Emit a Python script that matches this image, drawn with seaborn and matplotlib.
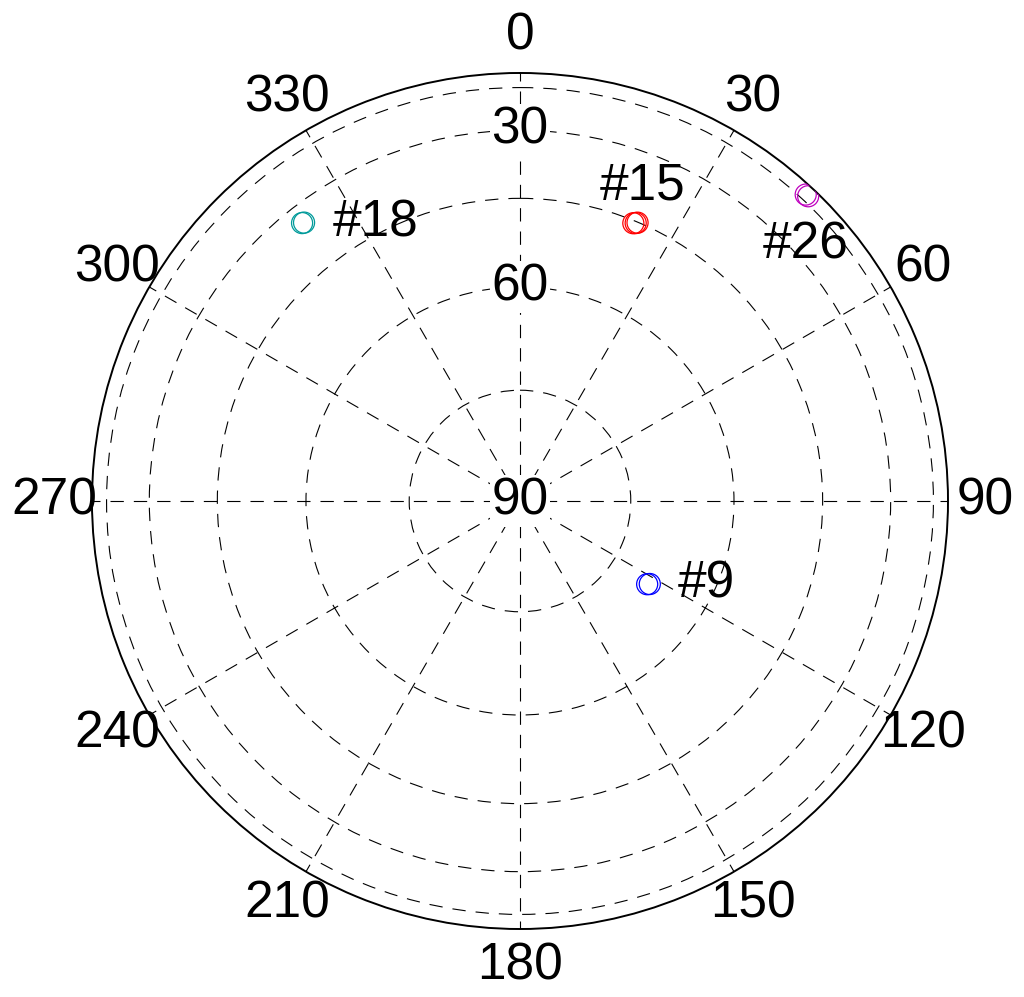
"""
Sky plot of satellite positions (azimuth / elevation)
"""

import numpy as np
import pandas as pd
import matplotlib
matplotlib.use("Agg")
import matplotlib.pyplot as plt
import seaborn as sns


# Data (two observations per satellite, degrees)
sat_id = ["#9", "#9", "#15", "#15", "#15", "#18", "#18", "#26", "#26"]
azimuth = [122.6, 123.2, 22.6, 22.2, 22.9, 321.9, 322.2, 43.4, 43.0]
elevation = [68.9, 69.2, 45.3, 45.5, 45.1, 34.4, 34.6, 11.5, 11.8]

sat_names = ["#9", "#15", "#18", "#26"]
sat_colors = ["#0000ff", "#ff0000", "#009a9a", "#bf00bf"]
# label offsets from the marker (points) and alignment
label_dx = [20, 5, 22, -2]
label_dy = [0, 27, 0, -35]
label_ha = ["left", "center", "left", "center"]

theta_ticks = list(range(0, 360, 30))
elev_circles = [75, 60, 45, 30, 15]
elev_labels = [30, 60, 90]


# Table for plotting
sky = pd.DataFrame({"sat": sat_id, "az": azimuth, "el": elevation})
sky["theta"] = np.deg2rad(sky["az"])
sky["r"] = np.cos(np.deg2rad(sky["el"]))

sns.set_style("white")
plt.rcParams["font.family"] = ["Liberation Sans", "DejaVu Sans"]
plt.rcParams["text.color"] = "black"

fig = plt.figure(figsize=(10.24, 9.97), dpi=100)
ax = fig.add_axes([0.0898, 0.0682, 0.836, 0.8586], projection="polar")
ax.set_theta_zero_location("N")
ax.set_theta_direction(-1)
ax.set_ylim(0, 1)

# grid
ax.set_xticks(np.deg2rad(theta_ticks))
ax.set_xticklabels([])
ax.set_yticks(np.cos(np.deg2rad(elev_circles)))
ax.set_yticklabels([])
ax.grid(True, color="black", linestyle=(0, (12, 9)), linewidth=0.8)
ax.spines["polar"].set_color("black")
ax.spines["polar"].set_linewidth(1.4)

# azimuth labels
for t in theta_ticks:
    ax.text(np.deg2rad(t), 1.087, str(t), fontsize=37, ha="center",
            va="center", clip_on=False)

# elevation labels on the north spoke
for e in elev_labels:
    ax.text(0, np.cos(np.deg2rad(e)), str(e), fontsize=37, ha="center",
            va="center", zorder=3,
            bbox=dict(facecolor="white", edgecolor="none", pad=1))

# satellites
for name, c, dx, dy, ha in zip(sat_names, sat_colors, label_dx,
                                label_dy, label_ha):
    sub = sky[sky["sat"] == name]
    sns.scatterplot(x=sub["theta"], y=sub["r"], ax=ax, s=230,
                    facecolors="none", edgecolor=c, linewidth=0.9,
                    zorder=4, legend=False)
    ax.annotate(name, (sub["theta"].iloc[0], sub["r"].iloc[0]),
                xytext=(dx, dy), textcoords="offset points", fontsize=37,
                ha=ha, va="center", zorder=5)

ax.set_xlabel("")
ax.set_ylabel("")

fig.savefig("out.png", dpi=100)
